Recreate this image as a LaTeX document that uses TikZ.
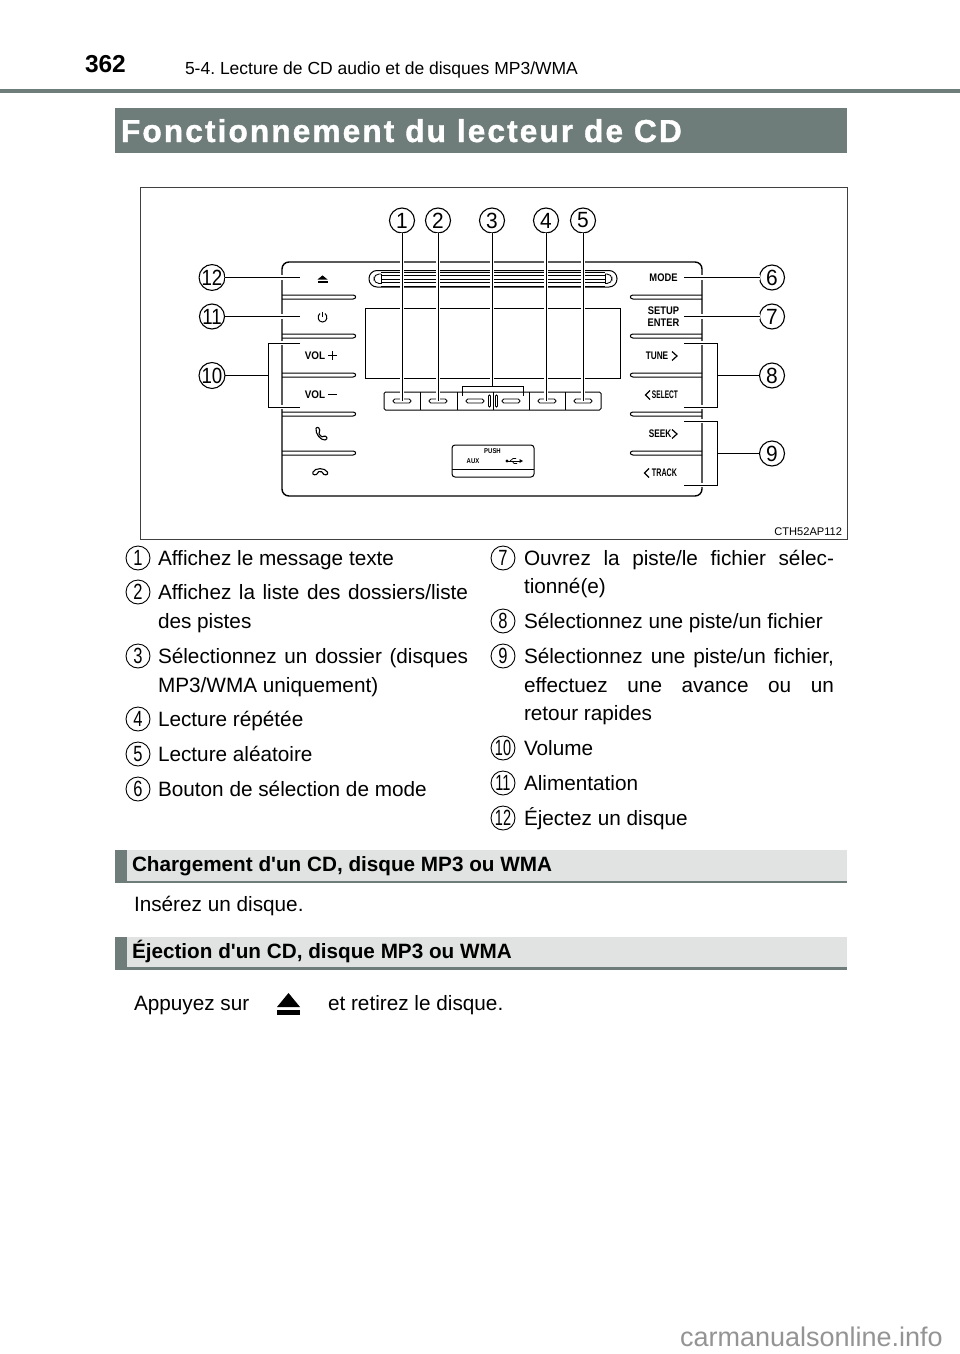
\documentclass[tikz,border=0pt]{standalone}
\usepackage{fontspec}
\setmainfont{Liberation Sans}[Ligatures=TeXOff]
\usetikzlibrary{calc}
\definecolor{slate}{HTML}{6E7C7A}
\definecolor{pale}{HTML}{E0E3E2}
\newcommand{\bodyf}{\fontsize{20.75}{29}\selectfont}
\newcommand{\jline}[2]{\hbox to #1pt{\bodyf\spaceskip=.278em plus 1fil\relax #2}}
\newcommand{\nar}[2]{\scalebox{#1}[1]{#2}}
\tikzset{
  x=1pt,y=-1pt,
  inner sep=0pt, outer sep=0pt,
  ink/.style={draw=black,line width=1pt},
  thin ink/.style={draw=black,line width=.85pt},
  leader/.style={draw=black,line width=1pt,preaction={draw=white,line width=4.5pt}},
  callout/.style={circle,draw=black,line width=1.1pt,fill=white,minimum size=25pt,font=\fontsize{22}{22}\selectfont},
  listnum/.style={circle,draw=black,line width=.9pt,minimum size=24pt,font=\fontsize{22}{22}\selectfont},
  body/.style={anchor=base west,font=\bodyf},
  sec/.style={anchor=base west,font=\fontsize{20.7}{24}\selectfont\bfseries},
  panel/.style={anchor=center,font=\fontsize{11}{12}\selectfont\bfseries},
}
\newcommand{\sepL}[1]{\draw[ink] (282,#1-2) -- (353,#1-2) .. controls (356.5,#1-2) and (356.5,#1+2) .. (353,#1+2) -- (282,#1+2);}
\newcommand{\sepR}[1]{\draw[ink] (702,#1-2) -- (633,#1-2) .. controls (629.5,#1-2) and (629.5,#1+2) .. (633,#1+2) -- (702,#1+2);}
\newcommand{\pill}[2]{\draw[thin ink,rounded corners=1.8pt] (#1-9,#2-2) rectangle (#1+9,#2+2);}
\newcommand{\ejectglyph}[3]{\fill[black] (#1-#3,#2) -- (#1,#2-#3*0.82) -- (#1+#3,#2) -- cycle; \fill[black] (#1-#3,#2+#3*0.3) rectangle (#1+#3,#2+#3*0.62);}
\begin{document}
\frenchspacing
\begin{tikzpicture}
\path[use as bounding box,fill=white] (0,0) rectangle (960,1354);

% ---- page header
\node[anchor=base west,font=\fontsize{24.5}{26}\selectfont\bfseries] (pagenum) at (85,72) {362};
\node[anchor=base west,font=\fontsize{17.5}{20}\selectfont] (chapter) at (185,74.5) {5-4. Lecture de CD audio et de disques MP3/WMA};
\fill[slate] (0,89) rectangle (960,92.5);
\fill[slate] (115,108) rectangle (847,153);
\node[anchor=base west,text=white,font=\fontsize{31.7}{33}\selectfont\bfseries\addfontfeature{LetterSpace=6.5,FakeBold=1.2}] (title) at (121,142) {Fonctionnement du lecteur de CD};

% ---- illustration frame
\draw[draw=black!75,line width=1pt] (140,187) rectangle (847,539);
\node[anchor=base east,font=\fontsize{11.1}{12}\selectfont] (code) at (842,535) {CTH52AP112};

% ---- head unit
\draw[draw=black,line width=1.4pt,rounded corners=7pt] (282,262) rectangle (702,496);
\foreach \yy in {297,336,375,414,453}{\sepL{\yy}\sepR{\yy}}
% CD slot
\draw[ink,rounded corners=8pt] (369,270.5) rectangle (617,287);
\foreach \yy in {272,275.5,279,282.5,286}{\draw[thin ink] (381,\yy) -- (605,\yy);}
\draw[thin ink,rounded corners=5pt] (381,274) -- (374,274) -- (374,283.5) -- (381,283.5);
\draw[thin ink,rounded corners=5pt] (605,274) -- (612,274) -- (612,283.5) -- (605,283.5);
\draw[thin ink] (381,274) -- (381,283.5) (605,274) -- (605,283.5);
% display
\draw[ink] (365,308) rectangle (620,378);
% button row
\draw[ink,rounded corners=1.5pt] (384,392) rectangle (601,410);
\foreach \xx in {420,457,493,529,565}{\draw[ink] (\xx,392) -- (\xx,410);}
\foreach \xx in {402,438,475,511,547,583}{\pill{\xx}{401}}
\draw[thin ink,rounded corners=1pt] (488.5,395) rectangle (490.5,407);
\draw[thin ink,rounded corners=1pt] (495.5,395) rectangle (497.5,407);
% AUX box
\draw[ink,rounded corners=3pt] (452,445) rectangle (534,477);
\draw[thin ink] (452,469) -- (534,469);
\node[font=\fontsize{7}{8}\selectfont\bfseries] (push) at (492.5,451) {\nar{.85}{PUSH}};
\node[font=\fontsize{7}{8}\selectfont\bfseries] (aux) at (473,461) {\nar{.85}{AUX}};
\fill (507,461) circle (1.6);
\draw[line width=.9pt] (507,461) -- (521,461);
\fill (523,461) -- (519.5,459) -- (519.5,463) -- cycle;
\draw[line width=.7pt] (510,461) -- (513,458.5) -- (516,458.5) (512,461) -- (514,463.5) -- (517,463.5);

% left button glyphs
\ejectglyph{322.5}{279.5}{5}
\draw[line width=1pt] (320,313.5) .. controls (316.5,316) and (318,322) .. (322.5,322) .. controls (327,322) and (328.5,316) .. (325,313.5);
\draw[line width=1pt] (322.5,311.5) -- (322.5,317);
\node[panel] (volp) at (315,356) {\nar{.9}{VOL}};
\draw[line width=1pt] (328,355.5) -- (337,355.5) (332.5,351) -- (332.5,360);
\node[panel] (volm) at (315,395) {\nar{.9}{VOL}};
\draw[line width=1pt] (328,394.5) -- (337,394.5);
\draw[line width=1.1pt,rounded corners=1pt] (316,428) -- (318.5,427) -- (320,431) -- (318.8,432.5) .. controls (319.5,435) and (321,436.5) .. (323,437) -- (324.5,435.6) -- (327.5,437.8) -- (326,439.8) .. controls (321,440.5) and (315,434) .. (316,428);
\draw[line width=1.1pt,rounded corners=1pt] (312.5,473) .. controls (315,467.5) and (325,467.5) .. (328,473) -- (327,475) -- (323,474.3) -- (322.6,472) .. controls (320.5,471.4) and (319.5,471.4) .. (317.8,472) -- (317.3,474.3) -- (313.5,475) -- cycle;

% right button labels
\node[panel] (mode) at (663.5,278) {\nar{.85}{MODE}};
\node[panel] (setup) at (663.5,311) {\nar{.85}{SETUP}};
\node[panel] (enter) at (663.5,322.5) {\nar{.85}{ENTER}};
\node[panel] (tune) at (657,356) {\nar{.75}{TUNE}};
\draw[line width=1.2pt] (672,351.5) -- (677,356) -- (672,360.5);
\node[panel] (select) at (665,395) {\nar{.6}{SELECT}};
\draw[line width=1.2pt] (650,390.5) -- (645.5,395) -- (650,399.5);
\node[panel] (seek) at (660,434) {\nar{.75}{SEEK}};
\draw[line width=1.2pt] (672,429.5) -- (677,434) -- (672,438.5);
\node[panel] (track) at (664.5,473) {\nar{.65}{TRACK}};
\draw[line width=1.2pt] (649,468.5) -- (644.5,473) -- (649,477.5);

% ---- callouts and leaders
\coordinate (t1) at (402,401); \coordinate (t2) at (438,401); \coordinate (t3) at (492,386);
\coordinate (t4) at (546,401); \coordinate (t5) at (583,401);
\coordinate (t12) at (300,277.5); \coordinate (t11) at (300,316.5);
\coordinate (t6) at (684,277.5); \coordinate (t7) at (684,316.5);
\coordinate (b10) at (268,375.5); \coordinate (b8) at (717,375.5); \coordinate (b9) at (717,453.5);

\node[callout] (c1) at (402,220.5) {\nar{.95}{1}};
\node[callout] (c2) at (438,220.5) {\nar{.95}{2}};
\node[callout] (c3) at (492,220.5) {\nar{.95}{3}};
\node[callout] (c4) at (546,220.5) {\nar{.95}{4}};
\node[callout] (c5) at (583,220.5) {\nar{.95}{5}};
\node[callout] (c12) at (212,277.5) {\nar{.85}{12}};
\node[callout] (c11) at (212,316.5) {\nar{.85}{11}};
\node[callout] (c10) at (212,375.5) {\nar{.85}{10}};
\node[callout] (c6) at (772,277.5) {\nar{.95}{6}};
\node[callout] (c7) at (772,316.5) {\nar{.95}{7}};
\node[callout] (c8) at (772,375.5) {\nar{.95}{8}};
\node[callout] (c9) at (772,453.5) {\nar{.95}{9}};

\draw[leader] (c1) -- (t1);
\draw[leader] (c2) -- (t2);
\draw[leader] (c3) -- (t3);
\draw[leader] (c4) -- (t4);
\draw[leader] (c5) -- (t5);
\draw[ink] (462,396) -- (462,386) -- (523,386) -- (523,396);
\draw[leader] (c12) -- (t12);
\draw[leader] (c11) -- (t11);
\draw[leader] (c6) -- (t6);
\draw[leader] (c7) -- (t7);
\draw[leader] (300,343) -- (268,343) -- (268,407) -- (300,407);
\draw[ink] (c10) -- (b10);
\draw[leader] (684,343) -- (717,343) -- (717,407) -- (684,407);
\draw[ink] (c8) -- (b8);
\draw[leader] (684,421) -- (717,421) -- (717,485) -- (684,485);
\draw[ink] (c9) -- (b9);

% ---- legend, left column
\node[listnum] (n1) at (138,558) {\nar{.75}{1}};
\node[listnum] (n2) at (138,592) {\nar{.75}{2}};
\node[listnum] (n3) at (138,656) {\nar{.75}{3}};
\node[listnum] (n4) at (138,719) {\nar{.75}{4}};
\node[listnum] (n5) at (138,754) {\nar{.75}{5}};
\node[listnum] (n6) at (138,789) {\nar{.75}{6}};
\node[body] (l1) at (158,565) {Affichez le message texte};
\node[anchor=base west] (l2) at (158,599) {\jline{310}{Affichez la liste des dossiers/liste}};
\node[body] (l2b) at (158,628) {des pistes};
\node[anchor=base west] (l3) at (158,663) {\jline{310}{Sélectionnez un dossier (disques}};
\node[body] (l3b) at (158,692) {MP3/WMA uniquement)};
\node[body] (l4) at (158,726) {Lecture répétée};
\node[body] (l5) at (158,761) {Lecture aléatoire};
\node[body] (l6) at (158,796) {Bouton de sélection de mode};

% ---- legend, right column
\node[listnum] (n7) at (503,558) {\nar{.75}{7}};
\node[listnum] (n8) at (503,621) {\nar{.75}{8}};
\node[listnum] (n9) at (503,656) {\nar{.75}{9}};
\node[listnum] (n10) at (503,748) {\nar{.66}{10}};
\node[listnum] (n11) at (503,783) {\nar{.66}{11}};
\node[listnum] (n12) at (503,818) {\nar{.66}{12}};
\node[anchor=base west] (r7) at (524,565) {\jline{310}{Ouvrez la piste/le fichier sélec-}};
\node[body] (r7b) at (524,593) {tionné(e)};
\node[body] (r8) at (524,628) {Sélectionnez une piste/un fichier};
\node[anchor=base west] (r9) at (524,663) {\jline{310}{Sélectionnez une piste/un fichier,}};
\node[anchor=base west] (r9b) at (524,692) {\jline{310}{effectuez une avance ou un}};
\node[body] (r9c) at (524,720) {retour rapides};
\node[body] (r10) at (524,755) {Volume};
\node[body] (r11) at (524,790) {Alimentation};
\node[body] (r12) at (524,825) {Éjectez un disque};

% ---- sections
\fill[pale] (115,850) rectangle (847,882);
\fill[slate] (115,850) rectangle (127,883);
\fill[slate] (115,880.8) rectangle (847,883);
\node[sec] (s1) at (132,871) {Chargement d'un CD, disque MP3 ou WMA};
\node[body] (p1) at (134,911) {Insérez un disque.};

\fill[pale] (115,937) rectangle (847,968);
\fill[slate] (115,937) rectangle (127,969.5);
\fill[slate] (115,967.3) rectangle (847,969.5);
\node[sec] (s2) at (132,958) {Éjection d'un CD, disque MP3 ou WMA};
\node[body] (p2) at (134,1010) {Appuyez sur};
\fill[black] (277,1007) -- (288.5,993) -- (300,1007) -- cycle;
\fill[black] (277,1009.5) rectangle (300,1014.5);
\node[body] (p2b) at (328,1010) {et retirez le disque.};

% ---- watermark
\node[anchor=base west,text=black!42,font=\fontsize{27}{28}\selectfont] (mark) at (680,1346) {carmanualsonline.info};
\end{tikzpicture}
\end{document}
